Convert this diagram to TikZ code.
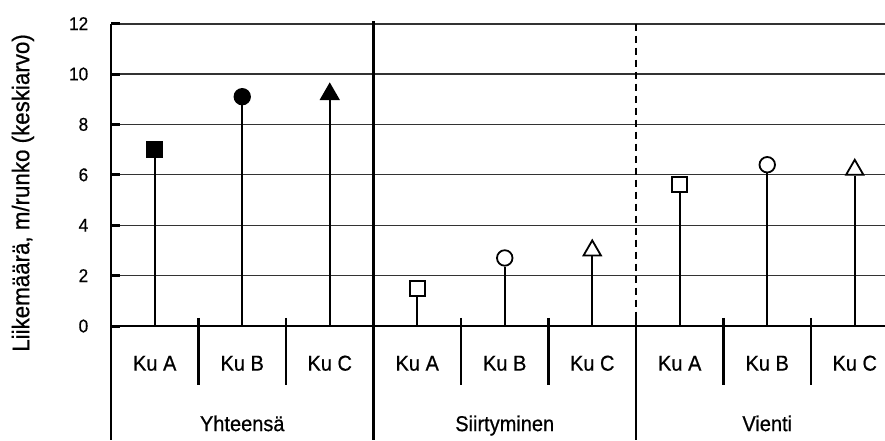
\documentclass[tikz,border=0pt]{standalone}
\usepackage{fontspec}
\setmainfont{Liberation Sans}[FakeBold=0.6, FakeStretch=0.93]
\usetikzlibrary{shapes.geometric}

\tikzset{
  gridline/.style={black!80, line width=1.2pt},
  stem/.style={line width=2pt},
  sepline/.style={line width=2.3pt},
  sqr/.style={rectangle, minimum size=15pt},
  crc/.style={circle, minimum size=15.5pt},
  tri/.style={regular polygon, regular polygon sides=3, minimum size=20pt},
  ticklab/.style={anchor=east, font=\fontsize{18.5}{22}\selectfont},
  catlab/.style={anchor=base, font=\fontsize{21.5}{25}\selectfont}
}

\begin{document}
\begin{tikzpicture}[x=87.5pt, y=25.2pt]
\useasboundingbox (-1.2686,-4.5238) rectangle (8.8457,12.937);
\foreach \v in {2,4,...,10} {
    \draw[gridline] (0,\v) -- (8.85,\v);
}
\draw[gridline, line width=2pt] (0,12) -- (8.85,12);
\draw[line width=2.2pt] (0,0) -- (8.85,0);
\draw[line width=2.2pt] (0,12) -- (0,-4.53);
\foreach \v in {0,2,...,12} {
    \draw[line width=3pt] (0,\v) -- (0.1,\v);
    \node[ticklab] (t\v) at (-0.22,\v) {\v};
}
\foreach \x in {1,2,4,5,7,8} {
    \draw[sepline] (\x,0.32) -- (\x,-2.34);
}
\draw[sepline] (3,12.1) -- (3,-4.53);
\draw[sepline, dash pattern=on 7pt off 5pt] (6,12) -- (6,0.32);
\draw[sepline] (6,0.32) -- (6,-4.53);
\foreach \i/\v/\s/\f in {1/7.0/sqr/black, 2/9.1/crc/black, 3/9.2/tri/black, 4/1.5/sqr/white, 5/2.7/crc/white, 6/3.0/tri/white, 7/5.6/sqr/white, 8/6.4/crc/white, 9/6.2/tri/white}
{
    \coordinate (b\i) at (\i-0.5,0);
    \node[draw, \s, fill=\f, line width=1.8pt, inner sep=0pt] (m\i) at (\i-0.5,\v) {};
    \draw[stem] (b\i) -- (m\i);
}
\foreach \i/\t in {0/A, 1/B, 2/C, 3/A, 4/B, 5/C, 6/A, 7/B, 8/C} {
    \node[catlab] (k\i) at (\i+0.5,-1.77) {Ku \t};
}
\node[catlab] (g1) at (1.5,-4.17) {Yhteensä};
\node[catlab] (g2) at (4.5,-4.17) {Siirtyminen};
\node[catlab] (g3) at (7.5,-4.17) {Vienti};
\node[rotate=90, font=\fontsize{24}{28}\selectfont] (ylab) at (-1.006,5.28) {Liikemäärä, m/runko (keskiarvo)};
\end{tikzpicture}
\end{document}
